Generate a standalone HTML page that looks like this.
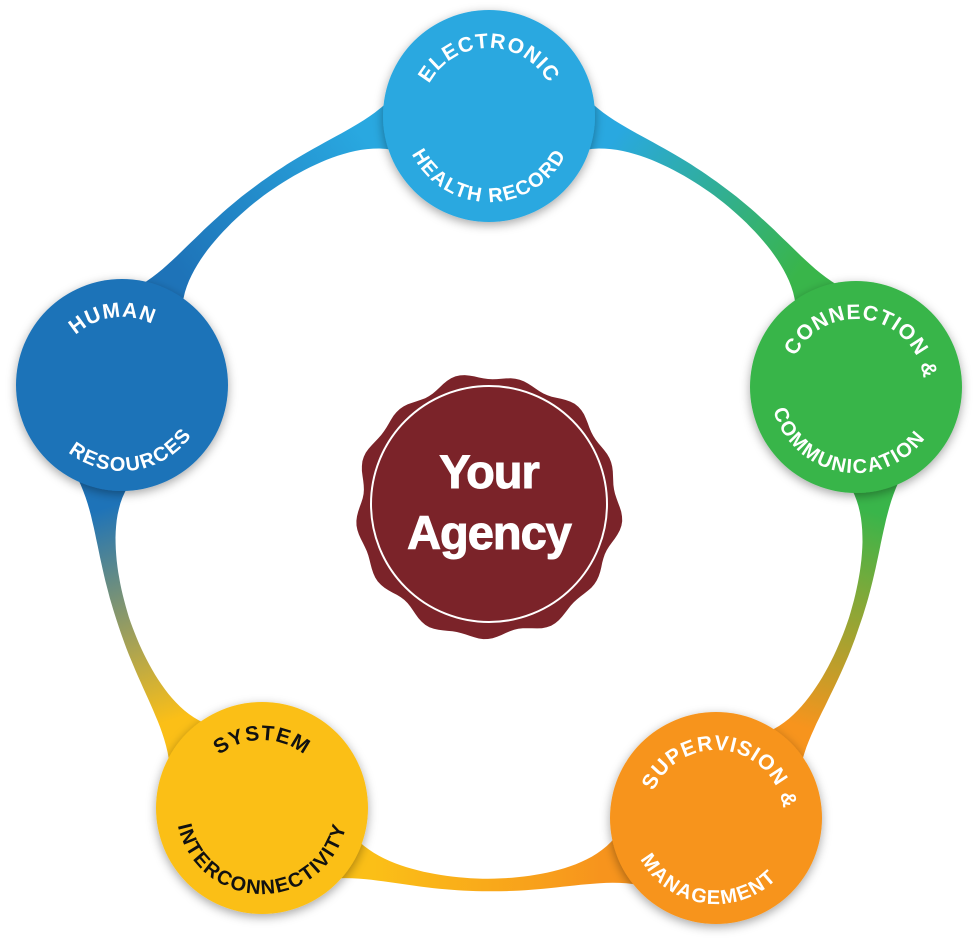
<!DOCTYPE html>
<html><head><meta charset="utf-8"><style>
html,body{margin:0;padding:0;background:#fff;}
svg{display:block;}
text{font-family:"Liberation Sans",sans-serif;font-weight:bold;}
</style></head><body>
<svg id="s" width="977" height="941" viewBox="0 0 977 941" xmlns="http://www.w3.org/2000/svg">
<defs>
<filter id="sh" x="-30%" y="-30%" width="160%" height="160%"><feDropShadow dx="0" dy="3" stdDeviation="5" flood-color="#000" flood-opacity="0.35"/></filter>
</defs>
<g id="bands"></g>
<g id="nodes"></g>
<g id="seal"></g>
</svg>
<script>
var NS="http://www.w3.org/2000/svg";
var svg=document.getElementById('s');
var defs=svg.querySelector('defs');
function el(t,a,p){var e=document.createElementNS(NS,t);for(var k in a)e.setAttribute(k,a[k]);if(p)p.appendChild(e);return e;}
var CX=489,CY=500,R=385;
var nodes=[
 {a:-90,c:"#29a8e0",x:489,y:116,top:"ELECTRONIC",bot:"HEALTH RECORD",rot:0,tc:"#fff"},
 {a:-17,c:"#39b54a",x:856,y:387,top:"CONNECTION &",bot:"COMMUNICATION",rot:10,tc:"#fff"},
 {a:55,c:"#f7941d",x:716,y:818,top:"SUPERVISION &",bot:"MANAGEMENT",rot:8,tc:"#fff"},
 {a:127,c:"#fbbf17",x:262,y:808,top:"SYSTEM",bot:"INTERCONNECTIVITY",rot:0,tc:"#111"},
 {a:197,c:"#1e73b8",x:122,y:385,top:"HUMAN",bot:"RESOURCES",rot:-8,tc:"#fff"}
];
var bands=document.getElementById('bands');
for(var i=0;i<5;i++){
 var A=nodes[i],B=nodes[(i+1)%5];
 var a0=A.a,a1=B.a; if(a1<a0)a1+=360;
 var g=el('linearGradient',{id:'g'+i,gradientUnits:'userSpaceOnUse',x1:A.x,y1:A.y,x2:B.x,y2:B.y},defs);
 el('stop',{offset:'0.25','stop-color':A.c},g);el('stop',{offset:'0.75','stop-color':B.c},g);
 var outer=[],inner=[],N=80;
 for(var j=0;j<=N;j++){
  var t=a0+(a1-a0)*j/N;var d=Math.min(t-a0,a1-t);
  var w=12+690*Math.exp(-d/5);if(w>80)w=80;
  var rad=t*Math.PI/180;
  outer.push([CX+(R+w/2)*Math.cos(rad),CY+(R+w/2)*Math.sin(rad)]);
  inner.push([CX+(R-w/2)*Math.cos(rad),CY+(R-w/2)*Math.sin(rad)]);
 }
 var p="M"+outer.map(function(q){return q[0].toFixed(1)+","+q[1].toFixed(1)}).join("L");
 p+="L"+inner.reverse().map(function(q){return q[0].toFixed(1)+","+q[1].toFixed(1)}).join("L")+"Z";
 el('path',{d:p,fill:'url(#g'+i+')'},bands);
}
var ng=document.getElementById('nodes');
nodes.forEach(function(n,i){
 el('circle',{cx:n.x,cy:n.y,r:106,fill:n.c,filter:'url(#sh)'},ng);
 var g=el('g',{transform:'rotate('+n.rot+' '+n.x+' '+n.y+')'},ng);
 var rt=68,rb=86;
 el('path',{id:'t'+i,d:'M'+(n.x-rt)+','+n.y+' A'+rt+','+rt+' 0 0 1 '+(n.x+rt)+','+n.y,fill:'none'},defs);
 el('path',{id:'b'+i,d:'M'+(n.x-rb)+','+n.y+' A'+rb+','+rb+' 0 0 0 '+(n.x+rb)+','+n.y,fill:'none'},defs);
 var t1=el('text',{fill:n.tc,'font-size':21,'letter-spacing':1,'text-anchor':'middle'},g);
 var tp=el('textPath',{href:'#t'+i,startOffset:'50%'},t1);tp.textContent=n.top;
 var t2=el('text',{fill:n.tc,'font-size':20,'letter-spacing':1.5,'text-anchor':'middle'},g);
 var tp2=el('textPath',{href:'#b'+i,startOffset:'50%'},t2);tp2.textContent=n.bot;
});
var sg=document.getElementById('seal');
var sx=488,sy=507,pts=[];
for(var k=0;k<=360;k+=2){var r=130+3*Math.sin(13*k*Math.PI/180)+2*Math.sin((7*k+60)*Math.PI/180);var rr=k*Math.PI/180;pts.push((sx+r*Math.cos(rr)).toFixed(1)+","+(sy+r*Math.sin(rr)).toFixed(1));}
el('path',{d:'M'+pts.join('L')+'Z',fill:'#7b2329'},sg);
el('circle',{cx:489,cy:504,r:118,fill:'none',stroke:'#fff','stroke-width':2},sg);
var y1=el('text',{x:489,y:488,fill:'#fff','font-size':47,'text-anchor':'middle','letter-spacing':-1,stroke:'#fff','stroke-width':1},sg);y1.textContent="Your";
var y2=el('text',{x:489,y:549,fill:'#fff','font-size':47,'text-anchor':'middle','letter-spacing':-1,stroke:'#fff','stroke-width':1},sg);y2.textContent="Agency";
</script>
</body></html>
